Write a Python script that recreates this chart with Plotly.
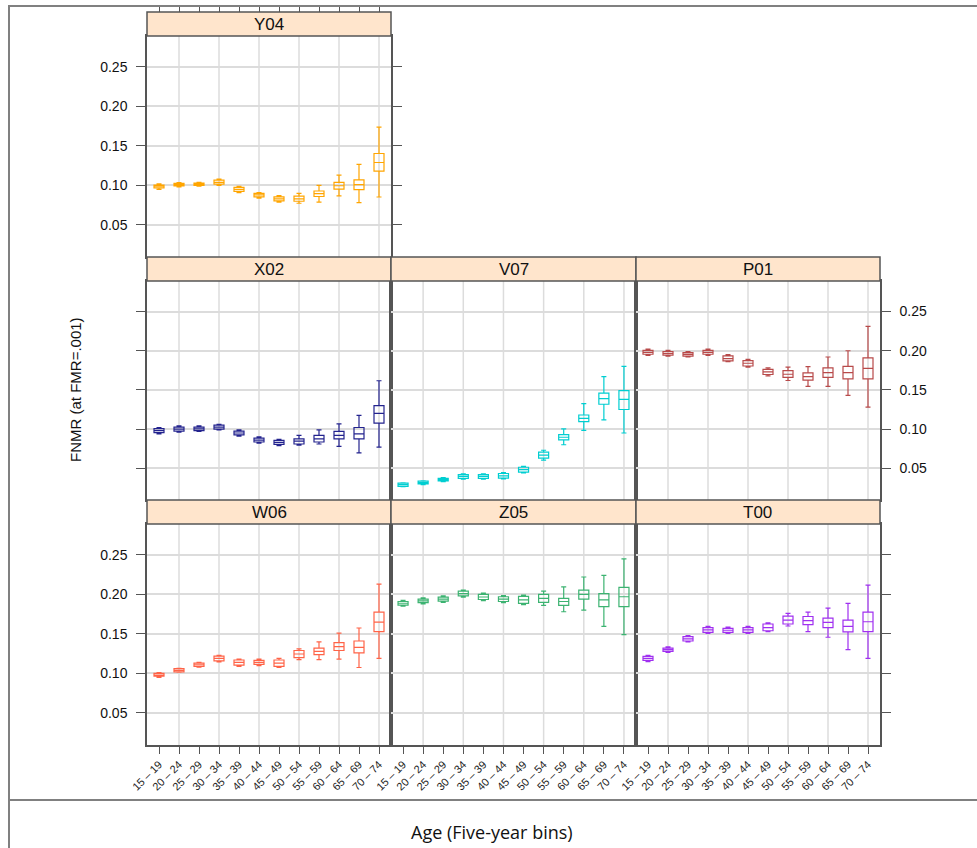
import plotly.graph_objects as go

AGE_BINS = ["15 – 19", "20 – 24", "25 – 29", "30 – 34", "35 – 39", "40 – 44",
            "45 – 49", "50 – 54", "55 – 59", "60 – 64", "65 – 69", "70 – 74"]
Y_TICKS = [0.05, 0.10, 0.15, 0.20, 0.25]
GRID_X = [2, 4, 6, 8, 10, 12]

Y04_med = [0.099, 0.101, 0.1015, 0.104, 0.095, 0.088, 0.083, 0.083, 0.0896, 0.0996, 0.101, 0.129]
Y04_q1 = [0.097, 0.0995, 0.100, 0.1017, 0.0925, 0.0855, 0.0805, 0.080, 0.086, 0.0954, 0.0946, 0.118]
Y04_q3 = [0.1005, 0.1025, 0.103, 0.1067, 0.0975, 0.090, 0.0855, 0.0865, 0.093, 0.104, 0.107, 0.1404]
Y04_lo = [0.095, 0.098, 0.099, 0.100, 0.091, 0.084, 0.079, 0.0775, 0.079, 0.0867, 0.0783, 0.0854]
Y04_hi = [0.102, 0.1035, 0.104, 0.108, 0.099, 0.091, 0.087, 0.090, 0.100, 0.113, 0.1267, 0.1738]

X02_med = [0.098, 0.100, 0.1004, 0.1025, 0.095, 0.086, 0.083, 0.0846, 0.0875, 0.092, 0.094, 0.120]
X02_q1 = [0.0955, 0.0975, 0.098, 0.100, 0.0925, 0.0835, 0.0805, 0.081, 0.0835, 0.0875, 0.0875, 0.1075]
X02_q3 = [0.1005, 0.1025, 0.1025, 0.105, 0.0975, 0.0885, 0.0855, 0.0875, 0.092, 0.097, 0.102, 0.130]
X02_lo = [0.094, 0.096, 0.097, 0.099, 0.091, 0.082, 0.079, 0.0795, 0.081, 0.078, 0.0696, 0.077]
X02_hi = [0.102, 0.104, 0.104, 0.106, 0.099, 0.090, 0.087, 0.092, 0.099, 0.1067, 0.1175, 0.1617]

V07_med = [0.029, 0.0317, 0.0354, 0.0396, 0.0396, 0.0404, 0.0483, 0.0667, 0.0896, 0.1138, 0.139, 0.138]
V07_q1 = [0.027, 0.030, 0.034, 0.037, 0.037, 0.0375, 0.045, 0.063, 0.0863, 0.1096, 0.1317, 0.125]
V07_q3 = [0.031, 0.0335, 0.037, 0.042, 0.042, 0.0433, 0.0513, 0.0705, 0.093, 0.118, 0.146, 0.149]
V07_lo = [0.0265, 0.029, 0.033, 0.036, 0.036, 0.0365, 0.044, 0.0605, 0.080, 0.0983, 0.1117, 0.095]
V07_hi = [0.0315, 0.034, 0.038, 0.043, 0.043, 0.0445, 0.0525, 0.073, 0.1004, 0.1325, 0.167, 0.180]

P01_med = [0.198, 0.1967, 0.1954, 0.198, 0.190, 0.184, 0.173, 0.170, 0.167, 0.172, 0.172, 0.1775]
P01_q1 = [0.1955, 0.1945, 0.193, 0.1955, 0.187, 0.1805, 0.1697, 0.166, 0.1625, 0.166, 0.164, 0.164]
P01_q3 = [0.2005, 0.199, 0.1975, 0.2005, 0.1935, 0.1875, 0.1763, 0.1746, 0.1717, 0.178, 0.180, 0.191]
P01_lo = [0.194, 0.193, 0.192, 0.194, 0.186, 0.179, 0.168, 0.162, 0.1546, 0.1546, 0.143, 0.128]
P01_hi = [0.202, 0.2005, 0.199, 0.202, 0.195, 0.189, 0.178, 0.179, 0.1796, 0.192, 0.200, 0.231]

W06_med = [0.098, 0.104, 0.111, 0.119, 0.114, 0.114, 0.113, 0.1246, 0.128, 0.134, 0.133, 0.165]
W06_q1 = [0.0965, 0.102, 0.109, 0.116, 0.1105, 0.1115, 0.109, 0.120, 0.1238, 0.129, 0.126, 0.153]
W06_q3 = [0.1000, 0.106, 0.113, 0.122, 0.117, 0.1165, 0.117, 0.129, 0.132, 0.139, 0.141, 0.1775]
W06_lo = [0.095, 0.1015, 0.108, 0.1145, 0.109, 0.110, 0.1075, 0.1175, 0.1175, 0.118, 0.1075, 0.119]
W06_hi = [0.101, 0.1065, 0.114, 0.123, 0.118, 0.118, 0.119, 0.131, 0.140, 0.151, 0.1575, 0.213]

Z05_med = [0.1888, 0.1917, 0.194, 0.201, 0.1967, 0.194, 0.193, 0.195, 0.191, 0.200, 0.193, 0.197]
Z05_q1 = [0.1865, 0.1895, 0.1915, 0.198, 0.1935, 0.191, 0.1885, 0.190, 0.186, 0.194, 0.1846, 0.1846]
Z05_q3 = [0.191, 0.194, 0.1965, 0.204, 0.200, 0.197, 0.1975, 0.200, 0.195, 0.2054, 0.201, 0.2088]
Z05_lo = [0.185, 0.188, 0.190, 0.1965, 0.192, 0.1895, 0.187, 0.186, 0.178, 0.180, 0.1596, 0.149]
Z05_hi = [0.1925, 0.1955, 0.198, 0.2055, 0.2015, 0.1985, 0.199, 0.204, 0.2096, 0.222, 0.224, 0.245]

T00_med = [0.119, 0.130, 0.1437, 0.155, 0.1546, 0.155, 0.158, 0.1675, 0.1667, 0.1646, 0.1596, 0.1654]
T00_q1 = [0.1165, 0.128, 0.141, 0.152, 0.152, 0.152, 0.154, 0.1625, 0.1617, 0.158, 0.1525, 0.153]
T00_q3 = [0.1215, 0.132, 0.1465, 0.158, 0.157, 0.158, 0.1625, 0.1725, 0.172, 0.170, 0.1675, 0.1775]
T00_lo = [0.115, 0.1265, 0.140, 0.1505, 0.1505, 0.1505, 0.153, 0.160, 0.153, 0.1458, 0.130, 0.119]
T00_hi = [0.123, 0.1335, 0.148, 0.1595, 0.1585, 0.1595, 0.164, 0.176, 0.1775, 0.1825, 0.1887, 0.2117]

W, H = 977, 848
COLS = [(147, 391), (391, 636), (636, 880)]
ROWS = [(36, 257), (281, 500), (524, 745)]
STRIPS = [(12, 36), (257, 281), (500, 524)]
YRANGE = [0.0095, 0.289]
XRANGE = [0.4, 12.6]
BORDER = "#555555"
GRIDC = "#DCDCDC"
STRIP_FILL = "#FFE5CC"
AX_FONT = dict(family="Liberation Sans, Arial, sans-serif", size=14, color="#111111")


def px(x):
    return x / W


def py(y):
    return 1 - y / H


# name, row, col, color, stats, y-axis style
panels = [
    ("Y04", 0, 0, "#FFA500", (Y04_q1, Y04_med, Y04_q3, Y04_lo, Y04_hi), "left_labels_mirror"),
    ("X02", 1, 0, "#23238E", (X02_q1, X02_med, X02_q3, X02_lo, X02_hi), "left_ticks"),
    ("V07", 1, 1, "#00CED1", (V07_q1, V07_med, V07_q3, V07_lo, V07_hi), "none"),
    ("P01", 1, 2, "#B84A4A", (P01_q1, P01_med, P01_q3, P01_lo, P01_hi), "right_labels"),
    ("W06", 2, 0, "#FF6347", (W06_q1, W06_med, W06_q3, W06_lo, W06_hi), "left_labels"),
    ("Z05", 2, 1, "#3CB371", (Z05_q1, Z05_med, Z05_q3, Z05_lo, Z05_hi), "none"),
    ("T00", 2, 2, "#A030F0", (T00_q1, T00_med, T00_q3, T00_lo, T00_hi), "right_ticks"),
]

fig = go.Figure()
layout = {}
shapes = []
annotations = []
xpos = list(range(1, len(AGE_BINS) + 1))

for k, (name, r, c, color, (q1, med, q3, lo, hi), ystyle) in enumerate(panels, start=1):
    sfx = "" if k == 1 else str(k)
    xa, ya = f"x{sfx}", f"y{sfx}"
    fig.add_trace(go.Box(
        x=xpos, q1=q1, median=med, q3=q3, lowerfence=lo, upperfence=hi,
        xaxis=xa, yaxis=ya, width=0.5, whiskerwidth=0.5,
        line=dict(color=color, width=1.2), fillcolor="rgba(0,0,0,0)",
        boxpoints=False, showlegend=False, hoverinfo="skip", name=name,
    ))
    x0, x1 = COLS[c]
    y0, y1 = ROWS[r]
    bottom = (r == 2)
    xdict = dict(
        domain=[px(x0), px(x1)], range=XRANGE, anchor=ya, automargin=False,
        tickvals=xpos, ticktext=AGE_BINS, showgrid=False, zeroline=False,
        showline=True, linecolor=BORDER, linewidth=1.5, mirror=True,
        ticks="outside" if bottom else "", ticklen=7, tickcolor=BORDER,
        showticklabels=bottom, tickangle=-45,
        tickfont=dict(family="Liberation Sans, Arial, sans-serif", size=11, color="#222222"),
    )
    ydict = dict(
        domain=[py(y1), py(y0)], range=YRANGE, anchor=xa, automargin=False,
        tickvals=Y_TICKS, ticktext=[f"{v:.2f}" for v in Y_TICKS],
        showgrid=True, gridcolor=GRIDC, gridwidth=1.5, zeroline=False,
        showline=True, linecolor=BORDER, linewidth=1.5, mirror=True,
        ticklen=9, tickcolor=BORDER, tickfont=AX_FONT, ticklabelstandoff=6,
    )
    if ystyle == "left_labels_mirror":
        ydict.update(ticks="outside", showticklabels=True, mirror="ticks")
    elif ystyle == "left_labels":
        ydict.update(ticks="outside", showticklabels=True)
    elif ystyle == "left_ticks":
        ydict.update(ticks="outside", showticklabels=False)
    elif ystyle == "right_labels":
        ydict.update(ticks="outside", showticklabels=True, side="right")
    elif ystyle == "right_ticks":
        ydict.update(ticks="outside", showticklabels=False, side="right")
    else:
        ydict.update(ticks="", showticklabels=False)
    layout[f"xaxis{sfx}"] = xdict
    layout[f"yaxis{sfx}"] = ydict

    for gv in GRID_X:
        shapes.append(dict(type="line", xref=xa, yref=f"{ya} domain", x0=gv, x1=gv, y0=0, y1=1,
                           line=dict(color=GRIDC, width=1.5), layer="below"))

    s0, s1 = STRIPS[r]
    shapes.append(dict(type="rect", xref="paper", yref="paper", x0=px(x0), x1=px(x1),
                       y0=py(s1), y1=py(s0), fillcolor=STRIP_FILL,
                       line=dict(color=BORDER, width=1.5), layer="above"))
    annotations.append(dict(text=name, xref="paper", yref="paper", x=(px(x0) + px(x1)) / 2,
                            y=(py(s0) + py(s1)) / 2, showarrow=False, xanchor="center", yanchor="middle",
                            font=dict(family="Liberation Sans, Arial, sans-serif", size=17, color="#111111")))

# top ticks above the Y04 strip
layout["xaxis8"] = dict(overlaying="x", anchor="free", position=py(STRIPS[0][0]), side="top",
                        range=XRANGE, tickvals=xpos, ticks="outside", ticklen=5, tickcolor=BORDER,
                        automargin=False, showticklabels=False, showgrid=False, zeroline=False, showline=False)
fig.add_trace(go.Scatter(x=[None], y=[None], xaxis="x8", yaxis="y", showlegend=False, hoverinfo="skip"))

# outer frame
FRAME = "#808080"
shapes.append(dict(type="line", xref="paper", yref="paper", x0=px(8), x1=1, y0=py(6), y1=py(6),
                   line=dict(color=FRAME, width=2)))
shapes.append(dict(type="line", xref="paper", yref="paper", x0=px(9), x1=px(9), y0=py(6), y1=0,
                   line=dict(color=FRAME, width=2)))
shapes.append(dict(type="line", xref="paper", yref="paper", x0=px(8), x1=1, y0=py(800), y1=py(800),
                   line=dict(color=FRAME, width=2)))

annotations.append(dict(text="FNMR (at FMR=.001)", xref="paper", yref="paper", x=px(75), y=py(390),
                        textangle=-90, showarrow=False, xanchor="center", yanchor="middle",
                        font=dict(family="Liberation Sans, Arial, sans-serif", size=15, color="#111111")))
annotations.append(dict(text="Age (Five-year bins)", xref="paper", yref="paper", x=px(492), y=py(832),
                        showarrow=False, xanchor="center", yanchor="middle",
                        font=dict(family="Open Sans, sans-serif", size=18, color="#111111")))

fig.update_layout(
    width=W, height=H, margin=dict(l=0, r=0, t=0, b=0, autoexpand=False),
    paper_bgcolor="white", plot_bgcolor="white",
    shapes=shapes, annotations=annotations, showlegend=False,
    **layout,
)
fig.write_html("out.html", config={"displayModeBar": False},
               post_script="document.body.style.margin='0px';document.body.style.overflow='hidden';")
